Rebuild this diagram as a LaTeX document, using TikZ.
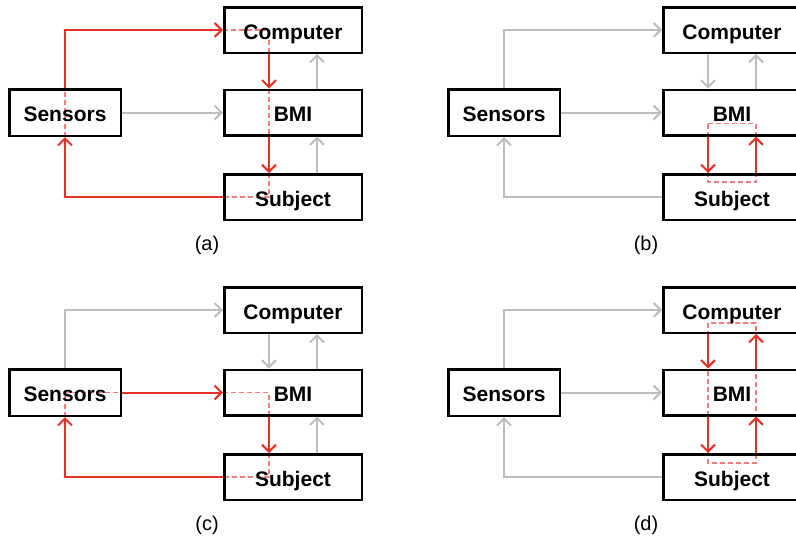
\documentclass[tikz,border=0pt]{standalone}
\usepackage{fontspec}
\setmainfont{Liberation Sans}
\usetikzlibrary{arrows.meta,backgrounds}
\definecolor{myred}{RGB}{232,48,38}
\definecolor{mypink}{RGB}{244,125,125}
\definecolor{mygray}{RGB}{190,190,190}
\tikzset{
 box/.style={draw=black,line width=2.5pt,inner sep=0pt,text height=18pt,text depth=0pt,font=\fontsize{21}{25}\selectfont\bfseries},
 bigbox/.style={box,minimum width=137.5pt,minimum height=45.5pt},
 sensbox/.style={box,minimum width=111.5pt,minimum height=46.5pt},
 grayarr/.style={draw=mygray,line width=2pt,-{Straight Barb[length=7pt,width=14pt]}},
 redarr/.style={draw=myred,line width=2pt,-{Straight Barb[length=7pt,width=14pt]}},
 dashline/.style={draw=mypink,line width=1.8pt,dash pattern=on 5pt off 3pt},
 panlabel/.style={inner sep=0pt,font=\fontsize{20}{24}\selectfont},
}
\newcommand\mkpanel[4]{%
 \begin{scope}[shift={(#2,#3)}]
 \node[sensbox] (sens#1) at (65,112.5) {Sensors};
 \node[bigbox] (comp#1) at (293,30) {Computer};
 \node[bigbox] (bmi#1) at (293,112.5) {BMI};
 \node[bigbox] (subj#1) at (293,197) {Subject};
 \node[panlabel] (lab#1) at (207,245) {(#4)};
 \end{scope}}
\begin{document}
\begin{tikzpicture}[x=1pt,y=-1pt]
\useasboundingbox (0,0) rectangle (796,541);
\mkpanel{a}{0}{0}{a}
\mkpanel{b}{439}{0}{b}
\mkpanel{c}{0}{280}{c}
\mkpanel{d}{439}{280}{d}
% ---------- panel a
\begin{scope}[on background layer]
\draw[dashline] (compa.west) -| ([xshift=-24pt]compa.south);
\draw[dashline] ([xshift=-24pt]bmia.north) -- ([xshift=-24pt]bmia.south);
\draw[dashline] ([xshift=-24pt]subja.north) |- (subja.west);
\draw[dashline] (sensa.south) -- (sensa.north);
\end{scope}
\draw[grayarr] (sensa.east) -- (bmia.west);
\draw[grayarr] ([xshift=24pt]bmia.north) -- ([xshift=24pt]compa.south);
\draw[grayarr] ([xshift=24pt]subja.north) -- ([xshift=24pt]bmia.south);
\draw[redarr] (sensa.north) |- (compa.west);
\draw[redarr] ([xshift=-24pt]compa.south) -- ([xshift=-24pt]bmia.north);
\draw[redarr] ([xshift=-24pt]bmia.south) -- ([xshift=-24pt]subja.north);
\draw[redarr] (subja.west) -| (sensa.south);
% ---------- panel b
\begin{scope}[on background layer]
\draw[dashline] ([xshift=-24pt,yshift=13pt]bmib.south) rectangle ([xshift=24pt,yshift=-9pt]subjb.north);
\end{scope}
\draw[grayarr] (sensb.north) |- (compb.west);
\draw[grayarr] (sensb.east) -- (bmib.west);
\draw[grayarr] ([xshift=-24pt]compb.south) -- ([xshift=-24pt]bmib.north);
\draw[grayarr] ([xshift=24pt]bmib.north) -- ([xshift=24pt]compb.south);
\draw[grayarr] (subjb.west) -| (sensb.south);
\draw[redarr] ([xshift=-24pt]bmib.south) -- ([xshift=-24pt]subjb.north);
\draw[redarr] ([xshift=24pt]subjb.north) -- ([xshift=24pt]bmib.south);
% ---------- panel c
\begin{scope}[on background layer]
\draw[dashline] (sensc.center) -- (sensc.east);
\draw[dashline] (bmic.west) -| ([xshift=-24pt]bmic.south);
\draw[dashline] ([xshift=-24pt]subjc.north) |- (subjc.west);
\draw[dashline] (sensc.south) -- (sensc.center);
\end{scope}
\draw[grayarr] (sensc.north) |- (compc.west);
\draw[grayarr] ([xshift=-24pt]compc.south) -- ([xshift=-24pt]bmic.north);
\draw[grayarr] ([xshift=24pt]bmic.north) -- ([xshift=24pt]compc.south);
\draw[grayarr] ([xshift=24pt]subjc.north) -- ([xshift=24pt]bmic.south);
\draw[redarr] (sensc.east) -- (bmic.west);
\draw[redarr] ([xshift=-24pt]bmic.south) -- ([xshift=-24pt]subjc.north);
\draw[redarr] (subjc.west) -| (sensc.south);
% ---------- panel d
\begin{scope}[on background layer]
\draw[dashline] ([xshift=-24pt,yshift=11pt]compd.south) rectangle ([xshift=24pt,yshift=-10pt]subjd.north);
\end{scope}
\draw[grayarr] (sensd.north) |- (compd.west);
\draw[grayarr] (sensd.east) -- (bmid.west);
\draw[grayarr] (subjd.west) -| (sensd.south);
\draw[redarr] ([xshift=-24pt]compd.south) -- ([xshift=-24pt]bmid.north);
\draw[redarr] ([xshift=-24pt]bmid.south) -- ([xshift=-24pt]subjd.north);
\draw[redarr] ([xshift=24pt]subjd.north) -- ([xshift=24pt]bmid.south);
\draw[redarr] ([xshift=24pt]bmid.north) -- ([xshift=24pt]compd.south);
\end{tikzpicture}
\end{document}
